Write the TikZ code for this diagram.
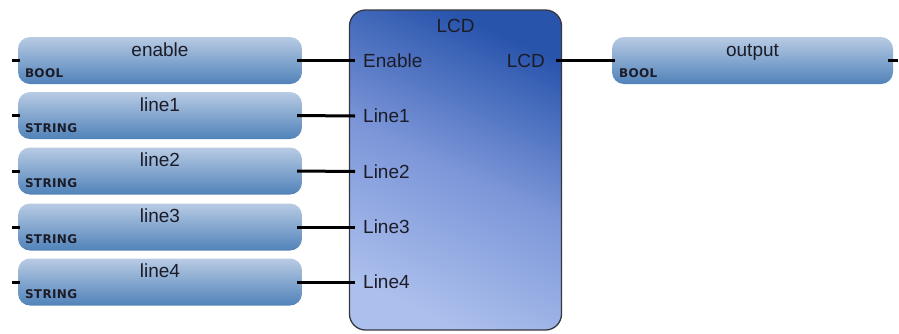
\documentclass[tikz,border=0pt]{standalone}
\usepackage{fontspec}
\setmainfont{Liberation Sans}
\newfontfamily\typefont[LetterSpace=3]{DejaVu Sans}
\usetikzlibrary{positioning}
\definecolor{vartop}{RGB}{184,203,228}
\definecolor{varbot}{RGB}{80,130,185}
\definecolor{fbdark}{RGB}{40,84,172}
\definecolor{fbmid}{RGB}{124,150,216}
\definecolor{fblight}{RGB}{172,192,237}
\definecolor{fbedge}{RGB}{55,55,65}
\definecolor{txt}{RGB}{28,28,40}
\tikzset{
  varbox/.style  = {rounded corners=12pt, top color=vartop, bottom color=varbot,
                    minimum width=284pt, minimum height=47pt, inner sep=0pt},
  outbox/.style  = {varbox, minimum width=281pt},
  fbbox/.style   = {draw=fbedge, line width=1.3pt, rounded corners=16pt,
                    top color=fbdark, bottom color=fblight, middle color=fbmid,
                    shading angle=-25,
                    minimum width=212pt, minimum height=320pt, inner sep=0pt},
  varname/.style = {font=\fontsize{19}{22}\selectfont, text=txt, anchor=base, inner sep=0pt},
  vartype/.style = {font=\typefont\bfseries\fontsize{12}{14}\selectfont, text=txt,
                    anchor=base west, inner sep=0pt},
  pin/.style     = {font=\fontsize{19}{22}\selectfont, text=txt, inner sep=0pt},
  wire/.style    = {line width=3pt},
  stub/.style    = {line width=3pt},
}
\begin{document}
\begin{tikzpicture}[x=1pt,y=-1pt]
  \useasboundingbox (0,0) rectangle (899,333);
  % function block
  \node[fbbox] (lcd) at (455.5,170) {};
  \node[pin, anchor=base] (lcdtitle) at ([yshift=-23pt]lcd.north) {LCD};
  \coordinate (inEnable) at (355,60.5);
  \coordinate (inLine1) at (355,116);
  \coordinate (inLine2) at (355,171.5);
  \coordinate (inLine3) at (355,227);
  \coordinate (inLine4) at (355,282);
  \coordinate (outLCD) at (556,60.5);
  \node[pin, anchor=west] (pEnable) at ([xshift=8pt]inEnable) {Enable};
  \node[pin, anchor=west] (pLine1) at ([xshift=8pt]inLine1) {Line1};
  \node[pin, anchor=west] (pLine2) at ([xshift=8pt]inLine2) {Line2};
  \node[pin, anchor=west] (pLine3) at ([xshift=8pt]inLine3) {Line3};
  \node[pin, anchor=west] (pLine4) at ([xshift=8pt]inLine4) {Line4};
  \node[pin, anchor=east] (pLCD) at ([xshift=-11pt]outLCD) {LCD};
  % input variables
  \node[varbox] (enable) at (160,60.5) {};
  \node[varbox] (line1) at (160,115.5) {};
  \node[varbox] (line2) at (160,171) {};
  \node[varbox] (line3) at (160,227) {};
  \node[varbox] (line4) at (160,282) {};
  \node[varname] (enablename) at ([yshift=-19.5pt]enable.north) {enable};
  \node[varname] (line1name) at ([yshift=-19.5pt]line1.north) {line1};
  \node[varname] (line2name) at ([yshift=-19.5pt]line2.north) {line2};
  \node[varname] (line3name) at ([yshift=-19.5pt]line3.north) {line3};
  \node[varname] (line4name) at ([yshift=-19.5pt]line4.north) {line4};
  \node[vartype] (enabletype) at ([xshift=7pt,yshift=7pt]enable.south west) {BOOL};
  \node[vartype] (line1type) at ([xshift=7pt,yshift=7pt]line1.south west) {STRING};
  \node[vartype] (line2type) at ([xshift=7pt,yshift=7pt]line2.south west) {STRING};
  \node[vartype] (line3type) at ([xshift=7pt,yshift=7pt]line3.south west) {STRING};
  \node[vartype] (line4type) at ([xshift=7pt,yshift=7pt]line4.south west) {STRING};
  \draw[stub] ([xshift=-6pt]enable.west) -- ([xshift=2pt]enable.west);
  \draw[stub] ([xshift=-6pt]line1.west) -- ([xshift=2pt]line1.west);
  \draw[stub] ([xshift=-6pt]line2.west) -- ([xshift=2pt]line2.west);
  \draw[stub] ([xshift=-6pt]line3.west) -- ([xshift=2pt]line3.west);
  \draw[stub] ([xshift=-6pt]line4.west) -- ([xshift=2pt]line4.west);
  \draw[wire] ([xshift=-5pt]enable.east) -- (inEnable);
  \draw[wire] ([xshift=-5pt]line1.east) -- (inLine1);
  \draw[wire] ([xshift=-5pt]line2.east) -- (inLine2);
  \draw[wire] ([xshift=-5pt]line3.east) -- (inLine3);
  \draw[wire] ([xshift=-5pt]line4.east) -- (inLine4);
  % output variable
  \node[outbox] (output) at (752.5,60.5) {};
  \node[varname] (outputname) at ([yshift=-19.5pt]output.north) {output};
  \node[vartype] (outputtype) at ([xshift=7pt,yshift=7pt]output.south west) {BOOL};
  \draw[wire] (outLCD) -- ([xshift=3pt]output.west);
  \draw[stub] ([xshift=-5pt]output.east) -- ([xshift=5pt]output.east);
\end{tikzpicture}
\end{document}
